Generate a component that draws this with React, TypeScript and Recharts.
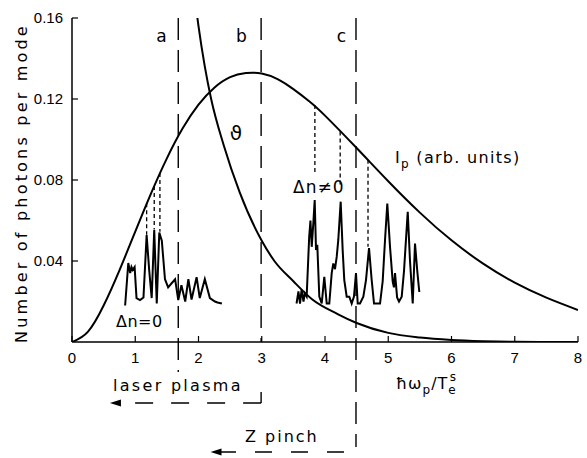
import React from 'react';
import {
  ComposedChart, Line, XAxis, YAxis, ReferenceLine, ReferenceDot,
} from 'recharts';

const xTicks = [0, 1, 2, 3, 4, 5, 6, 7, 8];
const yTicks = [0.04, 0.08, 0.12, 0.16];
const yTickLabels: Record<string, string> = { '0.04': '0.04', '0.08': '0.08', '0.12': '0.12', '0.16': '0.16' };

// photon intensity Ip (arb. units)
const ipCurve = [
  { x: 0, y: 0 }, { x: 0.25, y: 0.005 }, { x: 0.5, y: 0.018 }, { x: 0.75, y: 0.0354 },
  { x: 1, y: 0.0545 }, { x: 1.25, y: 0.0734 }, { x: 1.5, y: 0.0907 }, { x: 1.75, y: 0.1055 },
  { x: 2, y: 0.1172 }, { x: 2.25, y: 0.1256 }, { x: 2.5, y: 0.1308 }, { x: 2.75, y: 0.1328 },
  { x: 3, y: 0.1326 }, { x: 3.25, y: 0.1298 }, { x: 3.5, y: 0.1249 }, { x: 3.75, y: 0.1189 },
  { x: 4, y: 0.1118 }, { x: 4.5, y: 0.0958 }, { x: 5, y: 0.0794 }, { x: 5.5, y: 0.0639 },
  { x: 6, y: 0.0502 }, { x: 6.5, y: 0.0387 }, { x: 7, y: 0.0293 }, { x: 7.5, y: 0.0219 },
  { x: 8, y: 0.0158 },
];

// theta curve
const thetaCurve = [
  { x: 1.97, y: 0.163 }, { x: 2.0, y: 0.156 }, { x: 2.1, y: 0.136 }, { x: 2.2, y: 0.12 },
  { x: 2.4, y: 0.097 }, { x: 2.65, y: 0.074 }, { x: 3.0, y: 0.05 }, { x: 3.2, y: 0.04 },
  { x: 3.5, y: 0.03 }, { x: 3.8, y: 0.021 }, { x: 4.2, y: 0.0138 }, { x: 4.5, y: 0.0094 },
  { x: 5.0, y: 0.0045 }, { x: 5.5, y: 0.0022 }, { x: 6.0, y: 0.001 }, { x: 6.5, y: 0.0004 },
  { x: 7.0, y: 0.0001 }, { x: 8.0, y: 0 },
];

// measured spectrum, delta n = 0
const traceA = [
  [0.84, 0.018], [0.89, 0.039], [0.92, 0.034], [0.94, 0.037], [0.96, 0.0356], [0.99, 0.037],
  [1.02, 0.0217], [1.075, 0.0207], [1.13, 0.022], [1.18, 0.0528], [1.22, 0.0356], [1.26, 0.0217],
  [1.3, 0.0553], [1.34, 0.019], [1.38, 0.054], [1.42, 0.05], [1.47, 0.031], [1.52, 0.027],
  [1.575, 0.029], [1.63, 0.031], [1.68, 0.0207], [1.73, 0.028], [1.79, 0.02], [1.84, 0.031],
  [1.89, 0.021], [1.97, 0.032], [2.02, 0.0217], [2.1, 0.031], [2.18, 0.0217], [2.26, 0.02],
  [2.3, 0.0195], [2.37, 0.019],
].map(([x, y]) => ({ x, y }));

// measured spectrum, delta n != 0
const traceB = [
  [3.55, 0.019], [3.58, 0.025], [3.605, 0.019], [3.63, 0.0257], [3.66, 0.02], [3.68, 0.024],
  [3.71, 0.0224], [3.75, 0.052], [3.77, 0.06], [3.79, 0.047], [3.815, 0.0585], [3.837, 0.0701],
  [3.858, 0.0454], [3.878, 0.048], [3.91, 0.0224], [3.948, 0.019], [3.989, 0.0322], [4.027, 0.019],
  [4.068, 0.019], [4.106, 0.034], [4.131, 0.0388], [4.158, 0.036], [4.185, 0.042], [4.21, 0.0504],
  [4.248, 0.0693], [4.28, 0.045], [4.305, 0.0306], [4.343, 0.0224], [4.384, 0.0224], [4.422, 0.019],
  [4.458, 0.0224], [4.49, 0.034], [4.517, 0.019], [4.553, 0.019], [4.606, 0.0224], [4.648, 0.0306],
  [4.696, 0.0464], [4.738, 0.0306], [4.775, 0.019], [4.817, 0.019], [4.87, 0.019], [4.912, 0.03],
  [4.949, 0.0504], [4.985, 0.0684], [5.028, 0.047], [5.07, 0.03], [5.09, 0.027], [5.107, 0.034],
  [5.14, 0.022], [5.17, 0.02], [5.213, 0.0224], [5.249, 0.035], [5.308, 0.0643], [5.344, 0.04],
  [5.387, 0.019], [5.423, 0.0486], [5.459, 0.035], [5.491, 0.0247],
].map(([x, y]) => ({ x, y }));

// region boundaries a|b|c
const boundA = 1.68;
const boundB = 2.99;
const boundC = 4.49;

// short dashed markers from Ip down to peaks: [x, yTop, yBottom]
const peakMarks = [
  [1.18, 0.0685, 0.053], [1.3, 0.077, 0.0555], [1.39, 0.0835, 0.0545],
  [3.84, 0.117, 0.083], [4.24, 0.104, 0.077], [4.68, 0.09, 0.047],
];

const FONT = '"DejaVu Sans", sans-serif';

const arrowLeft = (props: any) => {
  const { cx, cy } = props;
  return <polygon points={`${cx},${cy} ${cx + 11},${cy - 3.5} ${cx + 11},${cy + 3.5}`} fill="#000" />;
};

export default function App() {
  const seg = (a: [number, number], b: [number, number]) => [{ x: a[0], y: a[1] }, { x: b[0], y: b[1] }];
  return (
    <div style={{ position: 'absolute', left: 0, top: 0, width: 587, height: 458, background: '#fff' }}>
      <ComposedChart width={587} height={458} margin={{ top: 18, right: 9, bottom: 86, left: 22 }}>
        <XAxis
          dataKey="x" type="number" domain={[0, 8]} ticks={xTicks} allowDataOverflow
          height={30} tickSize={-6} tickMargin={16}
          axisLine={{ stroke: '#000', strokeWidth: 1.5 }} tickLine={{ stroke: '#000', strokeWidth: 1.2 }}
          tick={{ fill: '#000', fontSize: 15, fontFamily: '"Liberation Sans", sans-serif' }}
        />
        <XAxis
          xAxisId="top" orientation="top" type="number" domain={[0, 8]} ticks={xTicks} allowDataOverflow
          height={0} tickSize={-6} tick={false}
          axisLine={{ stroke: '#000', strokeWidth: 1.5 }} tickLine={{ stroke: '#000', strokeWidth: 1.2 }}
        />
        <YAxis
          type="number" domain={[0, 0.16]} ticks={yTicks} allowDataOverflow width={50}
          tickSize={-6} tickMargin={15}
          tickFormatter={(v: number) => yTickLabels[v.toFixed(2)] ?? ''}
          axisLine={{ stroke: '#000', strokeWidth: 1.5 }} tickLine={{ stroke: '#000', strokeWidth: 1.2 }}
          tick={{ fill: '#000', fontSize: 15, fontFamily: '"Liberation Sans", sans-serif' }}
        />
        <YAxis
          yAxisId="right" orientation="right" type="number" domain={[0, 0.16]} ticks={yTicks} allowDataOverflow
          width={0} tickSize={-6} tick={false}
          axisLine={{ stroke: '#000', strokeWidth: 1.5 }} tickLine={{ stroke: '#000', strokeWidth: 1.2 }}
        />

        <Line data={ipCurve} dataKey="y" type="natural" stroke="#000" strokeWidth={2} dot={false} isAnimationActive={false} />
        <Line data={thetaCurve} dataKey="y" type="monotone" stroke="#000" strokeWidth={2} dot={false} isAnimationActive={false} />
        <Line data={traceA} dataKey="y" type="linear" stroke="#000" strokeWidth={2} dot={false} isAnimationActive={false} />
        <Line data={traceB} dataKey="y" type="linear" stroke="#000" strokeWidth={2} dot={false} isAnimationActive={false} />

        {peakMarks.map(([x, y1, y2], i) => (
          <ReferenceLine key={`pm${i}`} segment={seg([x, y1], [x, y2])} stroke="#000" strokeWidth={1.3} strokeDasharray="4 3" ifOverflow="visible" />
        ))}

        <ReferenceLine segment={seg([boundA, 0.16], [boundA, -0.0148])} stroke="#000" strokeWidth={1.4} strokeDasharray="22 10" ifOverflow="visible" />
        <ReferenceLine segment={seg([boundB, 0.16], [boundB, 0])} stroke="#000" strokeWidth={1.4} strokeDasharray="22 10" ifOverflow="visible" />
        <ReferenceLine segment={seg([boundC, 0.16], [boundC, -0.0519])} stroke="#000" strokeWidth={1.4} strokeDasharray="22 10" ifOverflow="visible" />

        {/* laser plasma bracket */}
        <ReferenceLine segment={seg([boundB, -0.0247], [boundB, -0.0301])} stroke="#000" strokeWidth={1.4} ifOverflow="visible" />
        <ReferenceLine segment={seg([boundB, -0.0301], [0.7, -0.0301])} stroke="#000" strokeWidth={1.4} strokeDasharray="18 18" ifOverflow="visible" />
        <ReferenceDot x={0.6} y={-0.0301} ifOverflow="visible" shape={arrowLeft} />
        {/* Z pinch */}
        <ReferenceLine segment={seg([4.3, -0.0543], [2.3, -0.0543])} stroke="#000" strokeWidth={1.4} strokeDasharray="17 19" ifOverflow="visible" />
        <ReferenceDot x={2.19} y={-0.0543} ifOverflow="visible" shape={arrowLeft} />
      </ComposedChart>

      <svg width={587} height={458} style={{ position: 'absolute', left: 0, top: 0, pointerEvents: 'none' }}>
        <g fontFamily={FONT} fill="#000">
          <text transform="translate(21,183) rotate(-90)" textAnchor="middle" dominantBaseline="central" fontSize={16} letterSpacing={3.2}>
            Number of photons per mode
          </text>
          <text x={161.5} y={42} textAnchor="middle" fontSize={17}>a</text>
          <text x={241.5} y={42} textAnchor="middle" fontSize={17}>b</text>
          <text x={341.5} y={42} textAnchor="middle" fontSize={17}>c</text>
          <text x={236} y={140} textAnchor="middle" fontSize={20}>ϑ</text>
          <text x={395} y={163} fontSize={16} letterSpacing={1.3}>
            I<tspan fontSize={12} dy={5}>p</tspan><tspan dy={-5}> (arb. units)</tspan>
          </text>
          <text x={293} y={193} fontSize={17} letterSpacing={1}>Δn≠0</text>
          <text x={116} y={327} fontSize={16} letterSpacing={0.5}>Δn=0</text>
          <text x={396} y={389} fontSize={16} letterSpacing={1}>
            ħω<tspan fontSize={12} dy={5}>p</tspan><tspan dy={-5}>/T</tspan><tspan fontSize={12} dy={5}>e</tspan><tspan fontSize={12} dx={-7} dy={-13}>s</tspan>
          </text>
          <text x={113} y={391} fontSize={16} letterSpacing={2.3}>laser plasma</text>
          <text x={245} y={442} fontSize={16} letterSpacing={2}>Z pinch</text>
        </g>
      </svg>
    </div>
  );
}
